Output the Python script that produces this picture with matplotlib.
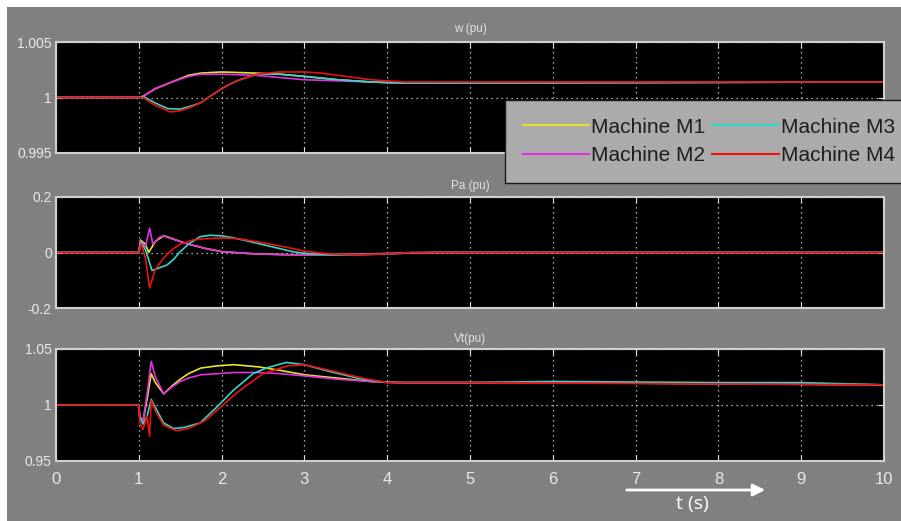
import numpy as np
import matplotlib
matplotlib.use('Agg')
from matplotlib import pyplot as plt
from matplotlib.patches import Rectangle

plt.rcParams['font.family'] = ['Liberation Sans', 'DejaVu Sans']

# --- data ---
machines = ['Machine M1', 'Machine M2', 'Machine M3', 'Machine M4']
colors = ['#e4e430', '#e030e0', '#30d8c8', '#ee1010']

# speed w (pu)
w_t1 = [0, 1, 1.05, 1.2, 1.4, 1.6, 1.75, 2.0, 2.4, 2.7, 3.0, 3.4, 3.8, 4.2, 10]
w_m1 = [1, 1, 1.0001, 1.0008, 1.0014, 1.0020, 1.0022, 1.0023, 1.0022, 1.0021, 1.0019, 1.0016, 1.0014, 1.0013, 1.0014]
w_m2 = [1, 1, 1.0001, 1.0008, 1.0014, 1.0019, 1.0021, 1.0021, 1.0020, 1.0018, 1.0016, 1.0015, 1.0014, 1.0013, 1.0014]
w_t3 = [0, 1, 1.05, 1.2, 1.35, 1.5, 1.62, 1.74, 1.86, 1.98, 2.1, 2.22, 2.43, 2.7, 3.0, 3.4, 3.8, 4.2, 10]
w_m3 = [1, 1, 1.0001, 0.9995, 0.9990, 0.99895, 0.9992, 0.9995, 1.0001, 1.0007, 1.0012, 1.0016, 1.0021, 1.0021, 1.0019, 1.0016, 1.0014, 1.0013, 1.0014]
w_t4 = [0, 1, 1.05, 1.2, 1.38, 1.5, 1.62, 1.74, 1.86, 1.98, 2.1, 2.22, 2.43, 2.7, 3.0, 3.2, 3.5, 3.8, 4.2, 10]
w_m4 = [1, 1, 1.0, 0.9993, 0.9987, 0.9988, 0.9991, 0.9995, 1.0001, 1.0007, 1.0012, 1.0016, 1.0021, 1.0023, 1.0023, 1.0022, 1.0019, 1.0016, 1.0014, 1.0014]

# accelerating power Pa (pu)
pa_t1 = [0, 1, 1.02, 1.08, 1.12, 1.2, 1.3, 1.45, 1.6, 1.8, 2.0, 2.4, 2.8, 3.2, 3.6, 4.0, 4.6, 10]
pa_m1 = [0, 0, 0.045, 0.03, 0.0, 0.04, 0.06, 0.045, 0.03, 0.015, 0.003, -0.005, -0.008, -0.008, -0.006, -0.004, 0, 0]
pa_t2 = [0, 1, 1.02, 1.08, 1.13, 1.17, 1.25, 1.32, 1.45, 1.6, 1.8, 2.0, 2.4, 2.8, 3.2, 3.6, 4.0, 4.6, 10]
pa_m2 = [0, 0, 0.04, 0.02, 0.088, 0.03, 0.055, 0.06, 0.045, 0.03, 0.015, 0.003, -0.005, -0.008, -0.008, -0.006, -0.004, 0, 0]
pa_t3 = [0, 1, 1.03, 1.08, 1.16, 1.25, 1.34, 1.42, 1.5, 1.6, 1.74, 1.86, 2.0, 2.14, 2.42, 2.66, 2.86, 3.0, 3.3, 3.7, 4.0, 4.3, 10]
pa_m3 = [0, 0, 0.035, 0.01, -0.065, -0.055, -0.045, -0.025, 0.003, 0.03, 0.057, 0.062, 0.06, 0.053, 0.034, 0.017, 0.003, -0.003, -0.008, -0.008, -0.005, 0, 0]
pa_t4 = [0, 1, 1.03, 1.08, 1.13, 1.2, 1.3, 1.4, 1.5, 1.65, 1.8, 2.0, 2.2, 2.5, 2.8, 3.0, 3.3, 3.7, 4.0, 4.3, 10]
pa_m4 = [0, 0, 0.03, -0.02, -0.128, -0.06, -0.02, 0.01, 0.03, 0.045, 0.05, 0.052, 0.05, 0.035, 0.018, 0.005, -0.005, -0.008, -0.005, 0, 0]

# terminal voltage Vt (pu)
vt_t12 = [0, 1, 1.01, 1.05, 1.1, 1.15, 1.2, 1.3, 1.4, 1.5, 1.6, 1.75, 1.95, 2.15, 2.45, 2.7, 3.0, 3.4, 3.8, 4.2, 5, 6, 8, 10]
vt_m1 = [1, 1, 0.99, 0.985, 1.005, 1.028, 1.02, 1.01, 1.017, 1.023, 1.028, 1.033, 1.035, 1.036, 1.034, 1.031, 1.027, 1.024, 1.021, 1.020, 1.020, 1.020, 1.019, 1.018]
vt_m2 = [1, 1, 0.99, 0.985, 1.01, 1.039, 1.025, 1.01, 1.016, 1.021, 1.024, 1.027, 1.028, 1.029, 1.029, 1.028, 1.026, 1.023, 1.021, 1.020, 1.020, 1.020, 1.019, 1.018]
vt_t3 = [0, 1, 1.01, 1.05, 1.1, 1.15, 1.22, 1.3, 1.42, 1.55, 1.74, 1.94, 2.14, 2.38, 2.54, 2.78, 3.0, 3.3, 3.7, 4.0, 5, 6, 8, 9, 10]
vt_m3 = [1, 1, 0.99, 0.983, 0.99, 1.005, 0.995, 0.984, 0.979, 0.980, 0.984, 0.998, 1.013, 1.028, 1.033, 1.038, 1.036, 1.030, 1.023, 1.020, 1.020, 1.021, 1.020, 1.020, 1.018]
vt_t4 = [0, 1, 1.01, 1.05, 1.1, 1.13, 1.15, 1.2, 1.3, 1.45, 1.6, 1.8, 2.0, 2.2, 2.5, 2.8, 3.0, 3.3, 3.7, 4.0, 5, 10]
vt_m4 = [1, 1, 0.985, 0.978, 0.99, 0.972, 1.004, 0.995, 0.982, 0.977, 0.979, 0.986, 0.999, 1.012, 1.028, 1.035, 1.036, 1.031, 1.024, 1.020, 1.020, 1.018]

panels = [
    ('w (pu)', [(w_t1, w_m1), (w_t1, w_m2), (w_t3, w_m3), (w_t4, w_m4)],
     [0.995, 1, 1.005], ['0.995', '1', '1.005']),
    ('Pa (pu)', [(pa_t1, pa_m1), (pa_t2, pa_m2), (pa_t3, pa_m3), (pa_t4, pa_m4)],
     [-0.2, 0, 0.2], ['-0.2', '0', '0.2']),
    ('Vt(pu)', [(vt_t12, vt_m1), (vt_t12, vt_m2), (vt_t3, vt_m3), (vt_t4, vt_m4)],
     [0.95, 1, 1.05], ['0.95', '1', '1.05']),
]
xticks = list(range(0, 11))

W, H = 901, 521
fig = plt.figure(figsize=(W / 100, H / 100), dpi=100, facecolor='white')
fig.patches.append(Rectangle((7 / W, 0), 1, (H - 7) / H, transform=fig.transFigure,
                             facecolor='#808080', edgecolor='none', zorder=-10))

# axes boxes in pixels: (top, bottom)
boxes = [(42, 153), (197, 308), (349, 461)]
title_pads = [7, 6, 5]
left, right = 56, 884

axes = []
for i, (title, series, yt, ytl) in enumerate(panels):
    top, bot = boxes[i]
    ax = fig.add_axes([left / W, 1 - bot / H, (right - left) / W, (bot - top) / H])
    ax.set_facecolor('black')
    for (t, v), c, name in zip(series, colors, machines):
        ax.plot(t, v, color=c, lw=1.2, label=name)
    ax.set_xlim(0, 10)
    ax.set_ylim(yt[0], yt[-1])
    ax.set_xticks(xticks)
    ax.set_yticks(yt)
    ax.set_yticklabels(ytl)
    if i < 2:
        ax.set_xticklabels([])
    ax.grid(True, color='#d8d8d8', linestyle=(0, (1, 3)), linewidth=0.9)
    ax.tick_params(direction='in', top=True, right=True, color='#e0e0e0', length=4,
                   labelcolor='#e8e8e8', labelsize=10, pad=3)
    ax.tick_params(axis='x', labelsize=12, pad=8)
    for s in ax.spines.values():
        s.set_color('#d0d0d0')
        s.set_linewidth(1.5)
    ax.set_title(title, color='#e0e0e0', fontsize=8.5, pad=title_pads[i])
    axes.append(ax)

handles, labels = axes[0].get_legend_handles_labels()
leg = fig.legend(handles, labels, ncol=2, loc='upper left',
                 bbox_to_anchor=(505 / W, 1 - 100 / H), fontsize=15,
                 frameon=True, fancybox=False, framealpha=1,
                 facecolor='#ababab', edgecolor='#1a1a1a',
                 handlelength=3.2, handletextpad=0.1, columnspacing=0.3,
                 labelspacing=0.45, borderpad=0.85, borderaxespad=0)
for txt in leg.get_texts():
    txt.set_color('#1e1e1e')
for ln in leg.get_lines():
    ln.set_linewidth(1.5)

axes[2].annotate('', xy=(768 / W, 1 - 490 / H), xytext=(624 / W, 1 - 490 / H),
                 xycoords='figure fraction', textcoords='figure fraction',
                 arrowprops=dict(arrowstyle='-|>', color='white', lw=2, mutation_scale=18))
fig.text(692 / W, 1 - 504 / H, 't (s)', ha='center', va='center', fontsize=14,
         color='white', family=['Open Sans', 'DejaVu Sans'])

fig.savefig('out.png', dpi=100, facecolor=fig.get_facecolor())
